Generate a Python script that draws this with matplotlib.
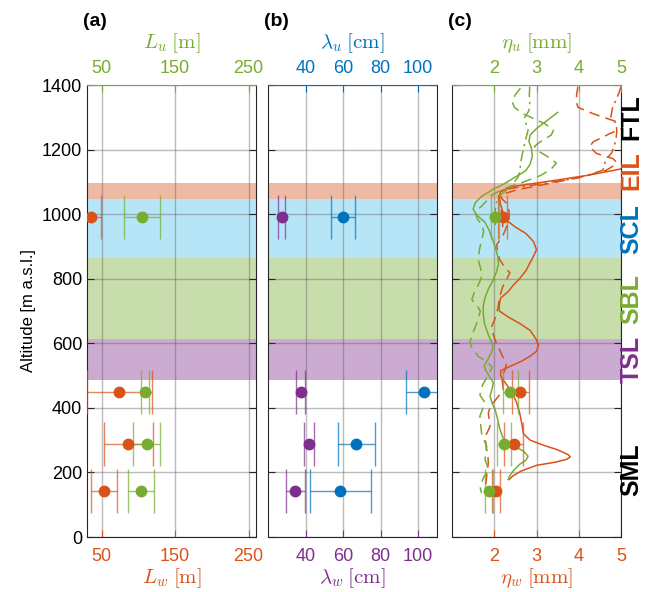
import matplotlib
matplotlib.use("Agg")
import matplotlib.pyplot as plt
import matplotlib.transforms as mtransforms

plt.rcParams['font.family'] = ['Liberation Sans', 'DejaVu Sans']
plt.rcParams['mathtext.fontset'] = 'cm'

# colours
C_OR = '#D95319'
C_GR = '#77AC30'
C_BL = '#0072BD'
C_PU = '#7E2F8E'
C_CY = '#4DBEEE'

# layer bands (altitude range, colour) and their side labels
band_names = ['EIL', 'SCL', 'SBL', 'TSL']
band_lo = [1047, 864, 613, 486]
band_hi = [1095, 1047, 864, 613]
band_colors = [C_OR, C_CY, C_GR, C_PU]

layer_labels = ['FTL', 'EIL', 'SCL', 'SBL', 'TSL', 'SML']
layer_label_alt = [1300, 1135, 955, 738, 550, 210]
layer_label_colors = ['black', C_OR, C_BL, C_GR, C_PU, 'black']

# sampling altitudes of the point estimates
alt_pts = [990, 449, 287, 143]

# (a) integral length scales
Lw = [35, 74, 86, 53]
Lw_err = [14.5, 44, 33.5, 17.4]
Lu = [105, 109, 111, 103]
Lu_err = [25, 6, 18.5, 17.6]

# (b) Taylor microscales
lam_w = [27.2, 37.4, 41.9, 34.6]
lam_w_err = [1.9, 2.3, 2.5, 5.2]
lam_u = [60, 103.2, 67, 58.4]
lam_u_err = [6.3, 9.5, 9.8, 16.2]

# (c) Kolmogorov scales
eta_w = [2.2, 2.62, 2.46, 2.04]
eta_w_err = [0.1, 0.21, 0.22, 0.1]
eta_u = [2.02, 2.38, 2.23, 1.88]
eta_u_err = [0.1, 0.18, 0.17, 0.1]

# (c) Kolmogorov-scale profiles
eta_w_solid_alt = [1160, 1140, 1120, 1100, 1085, 1070, 1055, 1030, 1000, 980, 960, 940, 915, 890,
                   870, 850, 825, 800, 780, 760, 740, 720, 700, 680, 660, 640, 615, 595, 575, 560,
                   545, 530, 515, 500, 485, 465, 440, 416, 385, 353, 320, 300, 285, 270, 255, 248,
                   240, 232, 222, 205, 190, 178]
eta_w_solid = [5.4, 5.0, 4.2, 3.2, 2.4, 2.15, 2.12, 2.15, 2.22, 2.3, 2.5, 2.75, 2.93, 3.0,
               2.93, 2.85, 2.75, 2.6, 2.45, 2.33, 2.15, 2.12, 2.12, 2.35, 2.62, 2.85, 2.98, 3.05,
               3.0, 2.85, 2.65, 2.4, 2.15, 2.15, 2.22, 2.33, 2.45, 2.53, 2.6, 2.65, 2.69, 2.85,
               3.15, 3.5, 3.75, 3.8, 3.7, 3.45, 3.0, 2.65, 2.45, 2.35]

eta_w_dash_alt = [1395, 1370, 1350, 1331, 1311, 1295, 1282, 1270, 1249, 1224, 1208, 1188, 1172,
                  1160, 1148, 1136, 1116, 1095, 1075, 1059, 1045, 1034, 1010, 985, 963, 932, 906,
                  880, 859, 835, 818, 800, 775, 745, 720, 693, 670, 652, 626, 600, 579, 558, 538,
                  515, 498, 475, 457, 436, 416, 400, 384, 365, 343, 325, 312, 290, 271, 250, 229,
                  210, 188, 165, 146, 135]
eta_w_dash = [3.98, 3.95, 3.94, 3.98, 4.34, 4.7, 5.0, 5.1, 4.73, 4.34, 4.26, 4.42, 4.81,
              4.9, 4.8, 4.65, 4.1, 3.31, 2.53, 2.13, 2.2, 2.29, 2.35, 2.35, 2.3, 2.2, 2.06,
              2.08, 2.13, 2.25, 2.37, 2.3, 2.2, 2.13, 2.1, 2.06, 2.0, 1.94, 1.98, 2.05, 2.13,
              2.2, 2.29, 2.25, 2.17, 2.2, 2.21, 2.1, 1.98, 1.9, 1.86, 1.88, 1.9, 1.84, 1.78,
              1.8, 1.82, 1.85, 1.86, 1.84, 1.82, 1.8, 1.78, 1.79]

eta_w_dd_alt = [1395, 1375, 1353, 1330, 1301, 1280, 1255, 1230, 1208, 1190, 1168, 1150, 1136,
                1122, 1111, 1100, 1090, 1082, 1075, 1060, 1040, 1020, 1000, 980, 960]
eta_w_dd = [5.0, 4.95, 4.88, 4.8, 4.76, 4.89, 4.9, 4.88, 4.83, 4.78, 4.64, 4.6, 4.57,
            4.25, 3.94, 3.4, 2.92, 2.5, 2.21, 2.1, 2.12, 2.15, 2.18, 2.2, 2.2]

eta_u_solid_alt = [1315, 1300, 1285, 1265, 1245, 1225, 1205, 1180, 1155, 1135, 1115, 1095, 1075,
                   1055, 1035, 1015, 995, 975, 950, 925, 900, 870, 845, 820, 790, 765, 740, 715,
                   690, 660, 630, 605, 590, 570, 550, 530, 515, 495, 478, 460, 436, 415, 395, 365,
                   335, 310, 290, 280, 265, 250, 238, 225, 205, 190, 178]
eta_u_solid = [3.5, 3.35, 3.2, 3.0, 2.85, 2.82, 2.88, 2.9, 2.85, 2.75, 2.5, 2.25, 1.95,
               1.7, 1.55, 1.5, 1.6, 1.78, 1.88, 1.95, 2.02, 2.08, 2.1, 2.05, 1.95, 1.85, 1.78,
               1.74, 1.74, 1.77, 1.85, 1.93, 1.97, 1.93, 1.85, 1.76, 1.8, 1.9, 1.98, 1.95, 1.9,
               1.95, 2.02, 2.08, 2.13, 2.2, 2.28, 2.5, 2.7, 2.8, 2.75, 2.6, 2.45, 2.37, 2.33]

eta_u_dash_alt = [1390, 1370, 1350, 1330, 1310, 1295, 1280, 1260, 1245, 1225, 1210, 1195, 1175,
                  1158, 1140, 1120, 1100, 1080, 1060, 1045, 1025, 1005, 985, 965, 945, 920, 890,
                  860, 830, 805, 780, 755, 735, 715, 700, 675, 650, 625, 605, 585, 560, 540, 525,
                  500, 470, 440, 416, 395, 374, 345, 322, 300, 281, 260, 240, 220, 208, 185, 157,
                  136]
eta_u_dash = [2.62, 2.5, 2.42, 2.48, 2.7, 2.95, 3.2, 3.4, 3.35, 3.1, 2.95, 3.05, 3.3,
              3.47, 3.35, 3.1, 2.7, 2.25, 1.95, 1.85, 1.7, 1.55, 1.6, 1.72, 1.75, 1.7, 1.65,
              1.62, 1.68, 1.7, 1.62, 1.52, 1.47, 1.6, 1.67, 1.62, 1.55, 1.47, 1.43, 1.47, 1.62,
              1.85, 1.95, 1.85, 1.72, 1.66, 1.78, 1.72, 1.66, 1.68, 1.7, 1.76, 1.82, 1.8, 1.78,
              1.84, 1.86, 1.75, 1.66, 1.7]

eta_u_dd_alt = [1395, 1370, 1345, 1320, 1300, 1280, 1260, 1240, 1218, 1195, 1177, 1155, 1136,
                1116, 1095, 1075, 1055, 1035, 1010, 985, 960]
eta_u_dd = [2.84, 2.83, 2.84, 2.82, 2.72, 2.75, 2.8, 2.76, 2.72, 2.68, 2.65, 2.62, 2.61,
            2.57, 2.45, 2.3, 2.1, 2.05, 2.02, 2.0, 2.03]

# axis settings
xlims = [(30, 260), (20, 110), (1, 5)]
xticks = [[50, 150, 250], [40, 60, 80, 100], [2, 3, 4, 5]]
top_colors = [C_GR, C_BL, C_GR]
bottom_colors = [C_OR, C_PU, C_OR]
top_labels = [r'$L_u\;[\mathrm{m}]$', r'$\lambda_u\;[\mathrm{cm}]$', r'$\eta_u\;[\mathrm{mm}]$']
bottom_labels = [r'$L_w\;[\mathrm{m}]$', r'$\lambda_w\;[\mathrm{cm}]$', r'$\eta_w\;[\mathrm{mm}]$']
letters = ['(a)', '(b)', '(c)']
yticks = [0, 200, 400, 600, 800, 1000, 1200, 1400]

W, H = 645, 592
fig = plt.figure(figsize=(W / 100, H / 100), dpi=100)
lefts = [87, 268, 452]
width = 169
top_px, bot_px = 85, 537

axes = []
for i in range(3):
    ax = fig.add_axes([lefts[i] / W, 1 - bot_px / H, width / W, (bot_px - top_px) / H])
    ax.set_xlim(*xlims[i])
    ax.set_ylim(0, 1400)
    for lo, hi, c in zip(band_lo, band_hi, band_colors):
        ax.axhspan(lo, hi, color=c, alpha=0.4, lw=0, zorder=0)
    ax.set_axisbelow(True)
    ax.grid(True, color='0.35', alpha=0.4, lw=1.0)
    ax.set_xticks(xticks[i])
    ax.set_yticks(yticks)
    ax.tick_params(axis='x', direction='in', colors=bottom_colors[i], labelsize=13,
                   length=5, pad=8)
    ax.tick_params(axis='y', direction='in', right=True, length=5, labelsize=13,
                   color='0.15', labelleft=(i == 0))
    ax.set_xlabel(bottom_labels[i], color=bottom_colors[i], fontsize=15, labelpad=1)
    ax.spines['top'].set_visible(False)
    for s in ['left', 'right', 'bottom']:
        ax.spines[s].set_color('0.15')

    top = ax.twiny()
    top.set_xlim(*xlims[i])
    top.set_xticks(xticks[i])
    top.tick_params(axis='x', direction='in', colors=top_colors[i], labelsize=13,
                    length=5, pad=6)
    top.spines['top'].set_color(top_colors[i])
    for s in ['left', 'right', 'bottom']:
        top.spines[s].set_visible(False)
    top.set_xlabel(top_labels[i], color=top_colors[i], fontsize=15, labelpad=8)

    fig.text((lefts[i] - 4) / W, 1 - 21 / H, letters[i], fontsize=14, fontweight='bold',
             ha='left', va='center')
    axes.append(ax)

axes[0].set_ylabel('Altitude [m a.s.l.]', fontsize=12, labelpad=4)

ms = 7.5
cap = 16
ebkw = dict(fmt='o', ms=ms, capsize=cap, elinewidth=1.0, capthick=1.0, zorder=4)


def points(ax, x, xerr, color):
    ebar = ax.errorbar(x, alt_pts, xerr=xerr, color=color, mec=color, mfc=color, **ebkw)
    for part in list(ebar[1]) + list(ebar[2]):
        part.set_alpha(0.7)


# (a)
points(axes[0], Lw, Lw_err, C_OR)
points(axes[0], Lu, Lu_err, C_GR)

# (b)
points(axes[1], lam_w, lam_w_err, C_PU)
points(axes[1], lam_u, lam_u_err, C_BL)

# (c)
axc = axes[2]
dash = (0, (7, 4))
dashdot = (0, (7, 3, 1.5, 3))
axc.plot(eta_w_solid, eta_w_solid_alt, color=C_OR, lw=1.1, zorder=3)
axc.plot(eta_w_dash, eta_w_dash_alt, color=C_OR, lw=1.1, ls=dash, zorder=3)
axc.plot(eta_w_dd, eta_w_dd_alt, color=C_OR, lw=1.1, ls=dashdot, zorder=3)
axc.plot(eta_u_solid, eta_u_solid_alt, color=C_GR, lw=1.1, zorder=3)
axc.plot(eta_u_dash, eta_u_dash_alt, color=C_GR, lw=1.1, ls=dash, zorder=3)
axc.plot(eta_u_dd, eta_u_dd_alt, color=C_GR, lw=1.1, ls=dashdot, zorder=3)
points(axc, eta_w, eta_w_err, C_OR)
points(axc, eta_u, eta_u_err, C_GR)

# layer names along the right edge
trans = mtransforms.blended_transform_factory(axc.transAxes, axc.transData)
for name, alt, c in zip(layer_labels, layer_label_alt, layer_label_colors):
    axc.text(1.063, alt, name, transform=trans, rotation=90, ha='center', va='center',
             fontsize=18, fontweight='bold', color=c, clip_on=False)

fig.savefig('out.png', dpi=100)
